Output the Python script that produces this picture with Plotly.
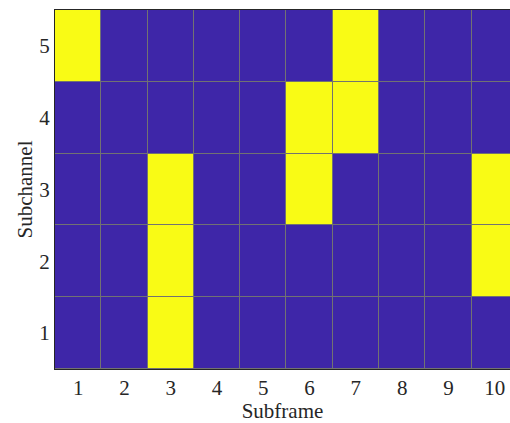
import plotly.graph_objects as go

subframes = [1, 2, 3, 4, 5, 6, 7, 8, 9, 10]
subchannels = [1, 2, 3, 4, 5]
# occupancy per subchannel (rows: subchannel 1..5), columns: subframe 1..10
occ_sc1 = [0, 0, 1, 0, 0, 0, 0, 0, 0, 0]
occ_sc2 = [0, 0, 1, 0, 0, 0, 0, 0, 0, 1]
occ_sc3 = [0, 0, 1, 0, 0, 1, 0, 0, 0, 1]
occ_sc4 = [0, 0, 0, 0, 0, 1, 1, 0, 0, 0]
occ_sc5 = [1, 0, 0, 0, 0, 0, 1, 0, 0, 0]

z = [occ_sc1, occ_sc2, occ_sc3, occ_sc4, occ_sc5]

fig = go.Figure(go.Heatmap(
    x=subframes, y=subchannels, z=z,
    colorscale=[[0, "#3E26A8"], [1, "#F9FB15"]],
    zmin=0, zmax=1, showscale=False, xgap=1, ygap=1,
    hoverinfo="skip",
))

FAM = "Liberation Serif"
FS = 21
fig.update_layout(
    width=510, height=423,
    margin=dict(l=55, r=0, t=10, b=54),
    paper_bgcolor="white", plot_bgcolor="#727272",
    font=dict(family=FAM, size=FS, color="#262626"),
    showlegend=False,
)
fig.update_xaxes(
    range=[0.5, 10.33], tickmode="array", tickvals=subframes,
    ticktext=[str(v) for v in subframes], ticks="", showgrid=False, zeroline=False,
    showline=True, linecolor="#262626", linewidth=1, mirror=True,
    title=dict(text="Subframe", font=dict(family=FAM, size=FS), standoff=0),
    tickfont=dict(family=FAM, size=FS),
)
fig.update_yaxes(
    range=[0.5, 5.5], tickmode="array", tickvals=subchannels,
    ticktext=[str(v) for v in subchannels], ticks="", showgrid=False, zeroline=False,
    showline=True, linecolor="#262626", linewidth=1, mirror=True,
    title=dict(text="Subchannel", font=dict(family=FAM, size=FS), standoff=0),
    tickfont=dict(family=FAM, size=FS),
)
fig.write_html("out.html")
